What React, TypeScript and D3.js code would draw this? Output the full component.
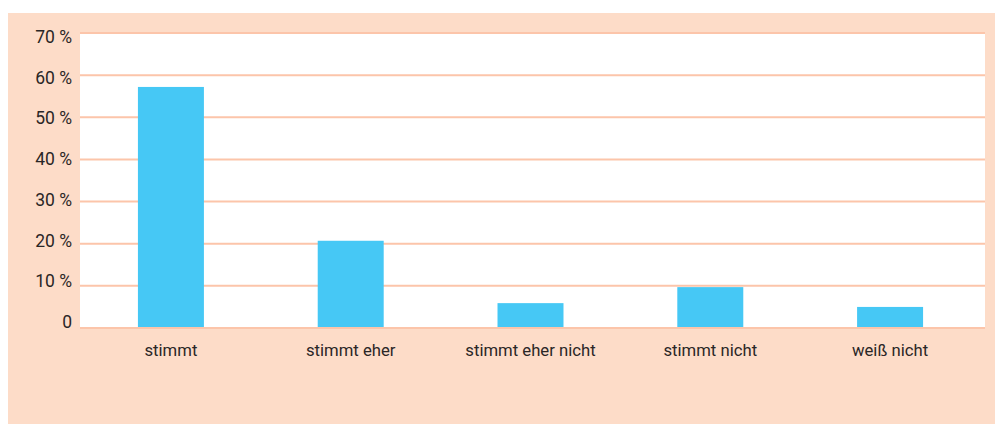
import { useMemo } from "react";
import * as d3 from "d3";

const WIDTH = 995;
const HEIGHT = 424;
const BG = "#fddcc8";
const GRID = "#fcc5aa";
const BAR = "#46c8f5";
const TEXT = "#2a2626";
const FONT = "'Liberation Sans Narrow', 'Roboto', sans-serif";

const categories = ["stimmt", "stimmt eher", "stimmt eher nicht", "stimmt nicht", "weiß nicht"];
const values = [57.2, 20.7, 5.9, 9.7, 5.0];
const ticks = [0, 10, 20, 30, 40, 50, 60, 70];

const PLOT = { left: 80, right: 985, top: 33, bottom: 328 };

function App() {
  const x = useMemo(
    () => d3.scaleBand<string>().domain(categories).range([75, 986]).paddingInner(0.633).paddingOuter(0.35),
    []
  );
  const y = useMemo(() => d3.scaleLinear().domain([0, 70]).range([PLOT.bottom, PLOT.top]), []);
  // tick labels in the original sit on a slightly tighter pitch than the gridlines
  const yLabel = useMemo(() => d3.scaleLinear().domain([0, 70]).range([328, 43]), []);

  return (
    <div style={{ position: "absolute", left: 0, top: 0, width: WIDTH, height: HEIGHT }}>
      <svg width={WIDTH} height={HEIGHT} style={{ display: "block" }}>
        <rect x={8} y={13} width={WIDTH - 8} height={HEIGHT - 13} fill={BG} />
        <rect x={PLOT.left} y={PLOT.top} width={PLOT.right - PLOT.left} height={PLOT.bottom - PLOT.top} fill="#ffffff" />
        {ticks.map((t) => (
          <g key={t}>
            <line x1={PLOT.left} x2={PLOT.right} y1={y(t)} y2={y(t)} stroke={GRID} strokeWidth={2} />
            <text
              x={72}
              y={yLabel(t)}
              textAnchor="end"
              fontFamily={FONT}
              fontSize={17.5}
              fill={TEXT}
            >
              {t === 0 ? "0" : `${t} %`}
            </text>
          </g>
        ))}
        {categories.map((c, i) => (
          <rect
            key={c}
            x={x(c)}
            y={y(values[i])}
            width={x.bandwidth()}
            height={y(0) - y(values[i]) - 1}
            fill={BAR}
          />
        ))}
        {categories.map((c) => (
          <text
            key={c}
            x={(x(c) ?? 0) + x.bandwidth() / 2}
            y={356}
            textAnchor="middle"
            fontFamily={FONT}
            fontSize={16.7}
            fill={TEXT}
          >
            {c}
          </text>
        ))}
      </svg>
    </div>
  );
}

export default App;
